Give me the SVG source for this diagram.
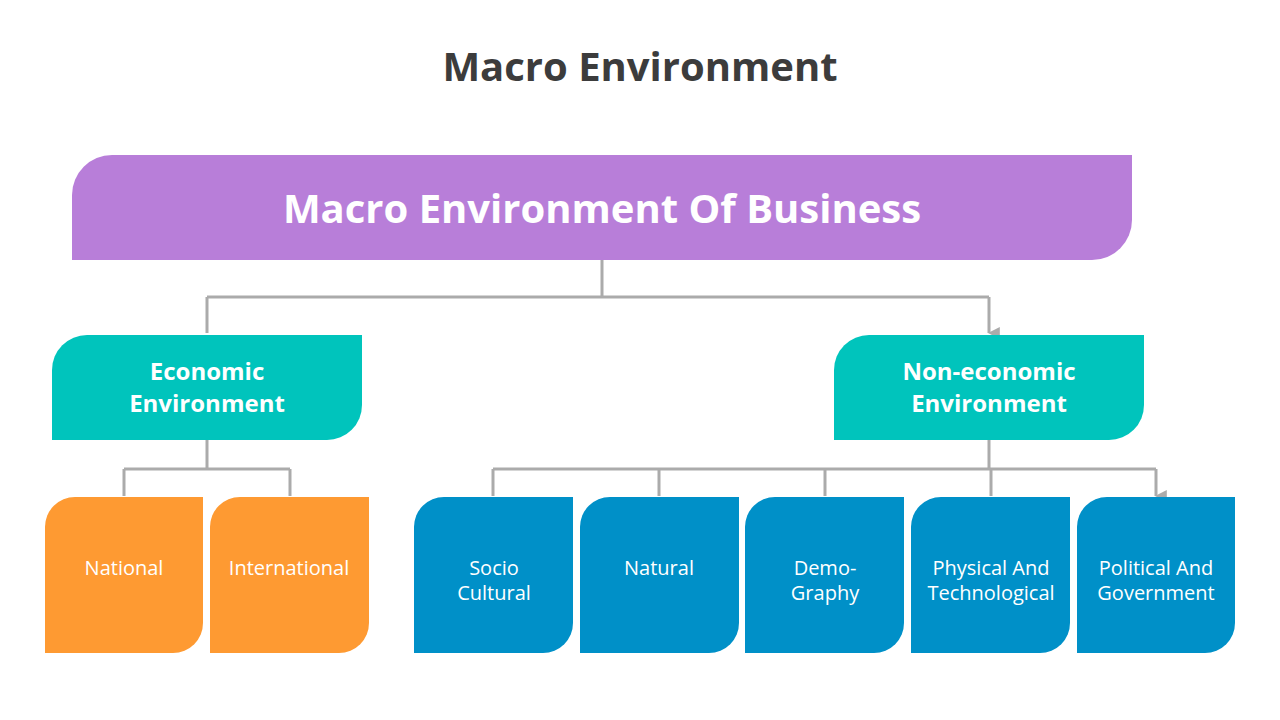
<svg xmlns="http://www.w3.org/2000/svg" width="1280" height="720" viewBox="0 0 1280 720">
<style>
text{font-family:"Segoe UI","Open Sans","Noto Sans",sans-serif;fill:#fff;text-anchor:middle}
.t{font-weight:bold;font-size:24px}
.l{font-size:20px}
.c{fill:none;stroke:#ababab;stroke-width:3}
.o{fill:#fe9a32}.b{fill:#0090c8}.g{fill:#00c4bc}
</style>
<defs><marker id="a" viewBox="0 0 10 10" refX="5" refY="9" markerWidth="4" markerHeight="4" orient="auto-start-reverse"><path d="M0 0H10L5 10Z" fill="#ababab" transform="rotate(0)"/></marker></defs>
<rect width="1280" height="720" fill="#fff"/>
<text x="640" y="81" style="fill:#3c3c3c;font-weight:bold;font-size:40px">Macro Environment</text>
<g id="connectors">
<path class="c" d="M602 260V297M207 297H989" />
<path class="c" d="M207 297V333M989 297V333" marker-end="url(#a)"/>
<path class="c" d="M207 440V469M124 469H290M989 440V469M493 469H1156"/>
<path class="c" d="M124 469V496M290 469V496M493 469V496M659 469V496M825 469V496M991 469V496M1156 469V496" marker-end="url(#a)"/>
</g>
<g id="root"><path d="M112 155H1132V220A40 40 0 0 1 1092 260H72V195A40 40 0 0 1 112 155Z" fill="#b87ed9"/>
<text x="602" y="223" style="font-weight:bold;font-size:40px">Macro Environment Of Business</text></g>
<g id="economic"><path class="g" d="M87 335H362V405A35 35 0 0 1 327 440H52V370A35 35 0 0 1 87 335Z"/>
<text class="t" x="207" y="380">Economic</text><text class="t" x="207" y="412">Environment</text></g>
<g id="noneconomic"><path class="g" d="M869 335H1144V405A35 35 0 0 1 1109 440H834V370A35 35 0 0 1 869 335Z"/>
<text class="t" x="989" y="380">Non-economic</text><text class="t" x="989" y="412">Environment</text></g>
<g id="national"><path class="o" d="M75 497H203V623A30 30 0 0 1 173 653H45V527A30 30 0 0 1 75 497Z"/><text class="l" x="124" y="575">National</text></g>
<g id="international"><path class="o" d="M240 497H369V623A30 30 0 0 1 339 653H210V527A30 30 0 0 1 240 497Z"/><text class="l" x="289" y="575">International</text></g>
<g id="socio"><path class="b" d="M444 497H573V623A30 30 0 0 1 543 653H414V527A30 30 0 0 1 444 497Z"/><text class="l" x="494" y="575">Socio</text><text class="l" x="494" y="600">Cultural</text></g>
<g id="natural"><path class="b" d="M610 497H739V623A30 30 0 0 1 709 653H580V527A30 30 0 0 1 610 497Z"/><text class="l" x="659" y="575">Natural</text></g>
<g id="demo"><path class="b" d="M775 497H904V623A30 30 0 0 1 874 653H745V527A30 30 0 0 1 775 497Z"/><text class="l" x="825" y="575">Demo-</text><text class="l" x="825" y="600">Graphy</text></g>
<g id="physical"><path class="b" d="M941 497H1070V623A30 30 0 0 1 1040 653H911V527A30 30 0 0 1 941 497Z"/><text class="l" x="991" y="575">Physical And</text><text class="l" x="991" y="600">Technological</text></g>
<g id="political"><path class="b" d="M1107 497H1235V623A30 30 0 0 1 1205 653H1077V527A30 30 0 0 1 1107 497Z"/><text class="l" x="1156" y="575">Political And</text><text class="l" x="1156" y="600">Government</text></g>
</svg>
